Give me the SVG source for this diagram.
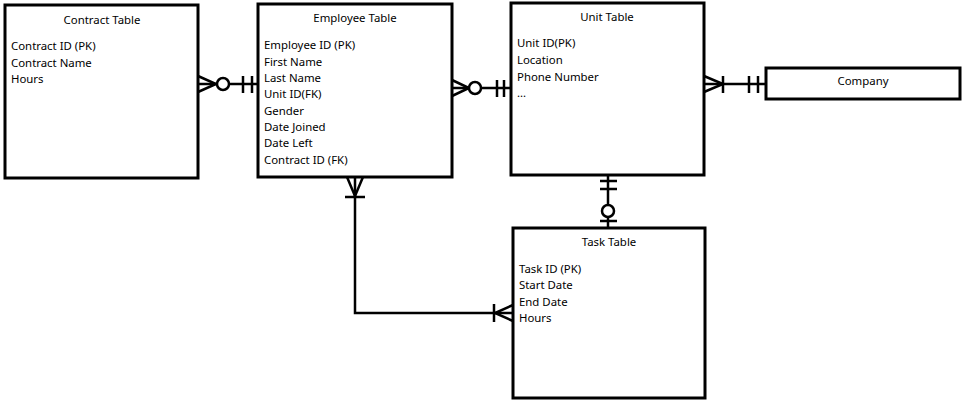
<svg xmlns="http://www.w3.org/2000/svg" width="965" height="400" viewBox="0 0 965 400">
<style>
.box{fill:#fff;stroke:#000;stroke-width:3}
.t{font-family:"Noto Sans","DejaVu Sans",sans-serif;font-size:11.4px;fill:#000}
.c{text-anchor:middle}
.ln{fill:none;stroke:#000;stroke-width:2.5}
.o{fill:#fff;stroke:#000;stroke-width:2.5}
</style>
<g id="contract">
<rect class="box" x="5" y="5" width="193" height="173"/>
<text class="t c" x="102" y="24">Contract Table</text>
<text class="t" x="11" y="50">Contract ID (PK)</text>
<text class="t" x="11" y="66.5">Contract Name</text>
<text class="t" x="11" y="83">Hours</text>
</g>
<g id="employee">
<rect class="box" x="258" y="4" width="194" height="173"/>
<text class="t c" x="355" y="22">Employee Table</text>
<text class="t" x="264" y="49">Employee ID (PK)</text>
<text class="t" x="264" y="65.5">First Name</text>
<text class="t" x="264" y="82">Last Name</text>
<text class="t" x="264" y="98">Unit ID(FK)</text>
<text class="t" x="264" y="114.5">Gender</text>
<text class="t" x="264" y="131">Date Joined</text>
<text class="t" x="264" y="147">Date Left</text>
<text class="t" x="264" y="163.5">Contract ID (FK)</text>
</g>
<g id="unit">
<rect class="box" x="511" y="3" width="193" height="172"/>
<text class="t c" x="607" y="21">Unit Table</text>
<text class="t" x="517" y="47">Unit ID(PK)</text>
<text class="t" x="517" y="64">Location</text>
<text class="t" x="517" y="80.5">Phone Number</text>
<text class="t" x="517" y="97">...</text>
</g>
<g id="company">
<rect class="box" x="766" y="68" width="194" height="31"/>
<text class="t c" x="863" y="85">Company</text>
</g>
<g id="task">
<rect class="box" x="513" y="228" width="192" height="170"/>
<text class="t c" x="609" y="246">Task Table</text>
<text class="t" x="519" y="273">Task ID (PK)</text>
<text class="t" x="519" y="289">Start Date</text>
<text class="t" x="519" y="306">End Date</text>
<text class="t" x="519" y="322">Hours</text>
</g>
<g id="connectors">
<!-- Contract - Employee -->
<line class="ln" x1="198" y1="84" x2="258" y2="84"/>
<polyline class="ln" points="198,76 216,84 198,92"/>
<circle class="o" cx="223" cy="84" r="6"/>
<line class="ln" x1="243" y1="76" x2="243" y2="93"/>
<line class="ln" x1="252" y1="76" x2="252" y2="93"/>
<!-- Employee - Unit -->
<line class="ln" x1="452" y1="88" x2="511" y2="88"/>
<polyline class="ln" points="452,80 469,88 452,96"/>
<circle class="o" cx="475" cy="88" r="6"/>
<line class="ln" x1="497" y1="80" x2="497" y2="97"/>
<line class="ln" x1="504" y1="80" x2="504" y2="97"/>
<!-- Unit - Company -->
<line class="ln" x1="704" y1="84" x2="766" y2="84"/>
<polyline class="ln" points="704,76 723,84 704,92"/>
<line class="ln" x1="723" y1="76" x2="723" y2="93"/>
<line class="ln" x1="749" y1="76" x2="749" y2="93"/>
<line class="ln" x1="758" y1="76" x2="758" y2="93"/>
<!-- Unit - Task -->
<line class="ln" x1="608" y1="175" x2="608" y2="228"/>
<line class="ln" x1="600" y1="181" x2="617" y2="181"/>
<line class="ln" x1="600" y1="189" x2="617" y2="189"/>
<circle class="o" cx="608" cy="211" r="6"/>
<line class="ln" x1="600" y1="221" x2="617" y2="221"/>
<!-- Employee - Task -->
<polyline class="ln" points="355,177 355,313 513,313"/>
<polyline class="ln" points="347,177 355,196 363,177"/>
<line class="ln" x1="345" y1="197" x2="365" y2="197"/>
<polyline class="ln" points="513,305 495,313 513,321"/>
<line class="ln" x1="494" y1="304" x2="494" y2="322"/>
</g>
</svg>
